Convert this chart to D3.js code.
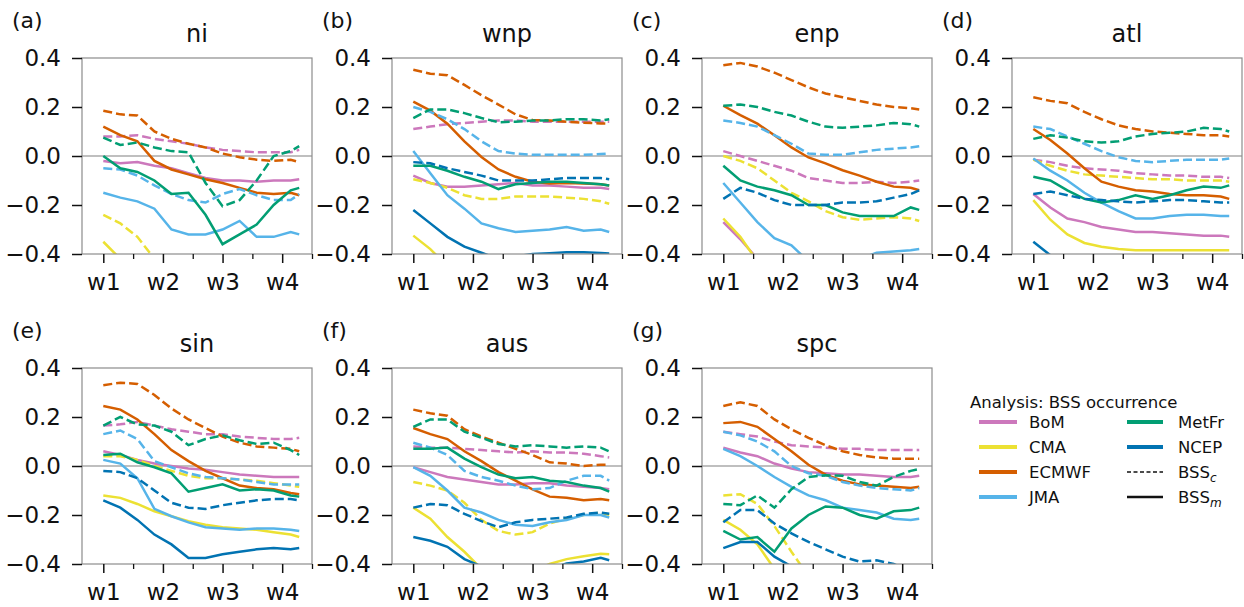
<!DOCTYPE html>
<html>
<head>
<meta charset="utf-8">
<script src="https://cdn.jsdelivr.net/npm/d3@7"></script>
<style>
  html, body { margin: 0; padding: 0; background: #fff; }
  svg { display: block; font-family: "DejaVu Sans", sans-serif; }
</style>
</head>
<body>
<svg id="chart" width="1244" height="607"></svg>
<script>
// ---------------- data ----------------
const days = [7, 9, 11, 13, 15, 17, 19, 21, 23, 25, 27, 29, 30];
const weekTicks = [7, 14, 21, 28];
const weekLabels = ["w1", "w2", "w3", "w4"];
const minorTicks = [10.5, 17.5, 24.5, 31.5];
const yTicks = [-0.4, -0.2, 0, 0.2, 0.4];
const regions = ["ni", "wnp", "enp", "atl", "sin", "aus", "spc"];
const panelLabels = ["(a)", "(b)", "(c)", "(d)", "(e)", "(f)", "(g)"];
const models = ["BoM", "CMA", "ECMWF", "JMA", "MetFr", "NCEP"];
const N = null;

// order of rows: BoM, CMA, ECMWF, JMA, MetFr, NCEP
// *_c = BSS_c (dashed), *_m = BSS_m (solid)
const ni_c = [
  [0.08,0.08,0.085,0.07,0.06,0.05,0.035,0.025,0.02,0.015,0.015,0.015,0.025],
  [-0.24,-0.275,-0.33,-0.42,-0.5,N,N,N,N,N,N,N,N],
  [0.185,0.17,0.165,0.1,0.07,0.05,0.035,0.01,-0.005,-0.015,-0.02,-0.015,-0.025],
  [-0.05,-0.055,-0.08,-0.12,-0.155,-0.18,-0.19,-0.155,-0.135,-0.16,-0.18,-0.18,-0.155],
  [0.075,0.045,0.055,0.035,0.02,0.015,-0.11,-0.205,-0.18,-0.1,0.0,0.02,0.04],
  [N,N,N,N,N,N,N,N,N,N,N,N,N]
];
const ni_m = [
  [-0.02,-0.03,-0.025,-0.04,-0.05,-0.07,-0.09,-0.1,-0.1,-0.105,-0.1,-0.1,-0.095],
  [-0.35,-0.42,-0.5,N,N,N,N,N,N,N,N,N,N],
  [0.12,0.085,0.06,-0.02,-0.055,-0.075,-0.095,-0.11,-0.13,-0.15,-0.155,-0.15,-0.16],
  [-0.15,-0.17,-0.185,-0.215,-0.3,-0.32,-0.32,-0.3,-0.265,-0.33,-0.33,-0.31,-0.32],
  [0.0,-0.05,-0.065,-0.1,-0.155,-0.15,-0.24,-0.36,-0.32,-0.28,-0.2,-0.14,-0.13],
  [N,N,N,N,N,N,N,N,N,N,N,N,N]
];
const wnp_c = [
  [0.11,0.12,0.13,0.135,0.14,0.145,0.145,0.14,0.14,0.14,0.14,0.14,0.14],
  [-0.095,-0.11,-0.13,-0.16,-0.175,-0.175,-0.165,-0.165,-0.165,-0.17,-0.175,-0.185,-0.195],
  [0.352,0.336,0.33,0.29,0.248,0.21,0.17,0.147,0.145,0.14,0.136,0.133,0.133],
  [0.2,0.18,0.15,0.11,0.06,0.02,0.01,0.005,0.005,0.005,0.005,0.008,0.01],
  [0.155,0.19,0.19,0.175,0.155,0.138,0.14,0.145,0.145,0.15,0.15,0.145,0.15],
  [-0.025,-0.03,-0.05,-0.065,-0.08,-0.1,-0.1,-0.1,-0.095,-0.09,-0.09,-0.09,-0.095]
];
const wnp_m = [
  [-0.08,-0.11,-0.125,-0.125,-0.12,-0.115,-0.11,-0.12,-0.12,-0.125,-0.13,-0.13,-0.135],
  [-0.325,-0.38,-0.45,N,N,N,N,N,N,N,N,N,N],
  [0.222,0.185,0.132,0.06,-0.004,-0.055,-0.085,-0.105,-0.112,-0.11,-0.112,-0.115,-0.12],
  [0.02,-0.07,-0.16,-0.215,-0.275,-0.295,-0.31,-0.305,-0.3,-0.29,-0.305,-0.3,-0.31],
  [-0.04,-0.04,-0.06,-0.085,-0.105,-0.135,-0.115,-0.11,-0.105,-0.105,-0.11,-0.115,-0.12],
  [-0.22,-0.275,-0.33,-0.37,-0.395,-0.42,-0.41,-0.4,-0.397,-0.393,-0.393,-0.396,-0.398]
];
const enp_c = [
  [0.02,0.0,-0.02,-0.04,-0.06,-0.09,-0.1,-0.11,-0.11,-0.105,-0.11,-0.105,-0.1],
  [0.0,-0.02,-0.05,-0.1,-0.15,-0.185,-0.225,-0.25,-0.26,-0.255,-0.25,-0.255,-0.265],
  [0.37,0.38,0.365,0.34,0.31,0.28,0.255,0.24,0.225,0.21,0.2,0.195,0.19],
  [0.145,0.135,0.12,0.085,0.05,0.01,0.005,0.005,0.015,0.025,0.03,0.035,0.04],
  [0.205,0.21,0.2,0.18,0.165,0.14,0.12,0.115,0.12,0.125,0.135,0.13,0.12],
  [-0.175,-0.13,-0.15,-0.18,-0.2,-0.2,-0.2,-0.19,-0.19,-0.185,-0.17,-0.155,-0.14]
];
const enp_m = [
  [-0.27,-0.34,-0.42,-0.5,N,N,N,N,N,N,N,N,N],
  [-0.255,-0.33,-0.43,-0.5,N,N,N,N,N,N,N,N,N],
  [0.205,0.167,0.132,0.085,0.035,-0.006,-0.03,-0.058,-0.08,-0.105,-0.125,-0.13,-0.14],
  [-0.11,-0.19,-0.27,-0.335,-0.365,-0.43,-0.46,-0.45,-0.42,-0.395,-0.39,-0.385,-0.38],
  [-0.04,-0.1,-0.125,-0.14,-0.16,-0.2,-0.2,-0.23,-0.245,-0.245,-0.245,-0.21,-0.22],
  [N,N,N,N,N,N,N,N,N,N,N,N,N]
];
const atl_c = [
  [-0.015,-0.025,-0.04,-0.05,-0.055,-0.06,-0.07,-0.075,-0.08,-0.08,-0.085,-0.085,-0.09],
  [-0.015,-0.04,-0.06,-0.075,-0.08,-0.085,-0.09,-0.095,-0.095,-0.1,-0.1,-0.1,-0.105],
  [0.24,0.225,0.215,0.18,0.15,0.125,0.11,0.1,0.095,0.09,0.085,0.085,0.08],
  [0.12,0.11,0.08,0.05,0.02,-0.005,-0.02,-0.025,-0.02,-0.015,-0.015,-0.015,-0.01],
  [0.07,0.085,0.075,0.06,0.055,0.06,0.08,0.09,0.095,0.1,0.115,0.11,0.1],
  [-0.155,-0.145,-0.16,-0.175,-0.18,-0.185,-0.19,-0.185,-0.18,-0.18,-0.185,-0.19,-0.19]
];
const atl_m = [
  [-0.155,-0.21,-0.255,-0.27,-0.29,-0.3,-0.31,-0.31,-0.315,-0.32,-0.325,-0.325,-0.33],
  [-0.18,-0.26,-0.32,-0.355,-0.37,-0.38,-0.385,-0.385,-0.385,-0.385,-0.385,-0.385,-0.385],
  [0.11,0.065,0.01,-0.05,-0.105,-0.125,-0.14,-0.145,-0.155,-0.16,-0.16,-0.165,-0.175],
  [-0.01,-0.06,-0.1,-0.15,-0.19,-0.225,-0.255,-0.255,-0.245,-0.24,-0.24,-0.245,-0.245],
  [-0.085,-0.1,-0.14,-0.175,-0.19,-0.18,-0.16,-0.175,-0.16,-0.14,-0.125,-0.13,-0.12],
  [-0.35,-0.405,-0.45,N,N,N,N,N,N,N,N,N,N]
];
const sin_c = [
  [0.165,0.17,0.18,0.165,0.15,0.14,0.13,0.13,0.12,0.115,0.11,0.11,0.115],
  [0.04,0.04,0.025,0.0,-0.02,-0.04,-0.05,-0.05,-0.055,-0.06,-0.07,-0.08,-0.085],
  [0.33,0.34,0.335,0.29,0.235,0.19,0.155,0.12,0.095,0.08,0.075,0.07,0.06],
  [0.13,0.145,0.11,0.02,-0.005,-0.03,-0.045,-0.05,-0.055,-0.065,-0.075,-0.075,-0.075],
  [0.165,0.2,0.17,0.165,0.14,0.085,0.11,0.125,0.105,0.09,0.095,0.065,0.045],
  [-0.02,-0.025,-0.05,-0.1,-0.15,-0.17,-0.175,-0.16,-0.15,-0.14,-0.135,-0.135,-0.14]
];
const sin_m = [
  [0.06,0.045,0.025,0.01,0.0,-0.01,-0.015,-0.025,-0.035,-0.04,-0.045,-0.045,-0.045],
  [-0.12,-0.13,-0.155,-0.185,-0.205,-0.225,-0.24,-0.25,-0.255,-0.26,-0.27,-0.28,-0.29],
  [0.245,0.23,0.19,0.13,0.065,0.02,-0.02,-0.05,-0.08,-0.09,-0.095,-0.11,-0.115],
  [0.025,0.01,-0.05,-0.175,-0.205,-0.23,-0.25,-0.255,-0.26,-0.255,-0.255,-0.26,-0.265],
  [0.045,0.05,0.015,-0.005,-0.03,-0.105,-0.09,-0.075,-0.1,-0.095,-0.1,-0.12,-0.125],
  [-0.14,-0.17,-0.22,-0.28,-0.32,-0.375,-0.375,-0.36,-0.35,-0.34,-0.335,-0.34,-0.335]
];
const aus_c = [
  [0.08,0.075,0.075,0.07,0.065,0.06,0.055,0.06,0.055,0.055,0.05,0.04,0.035],
  [-0.065,-0.08,-0.1,-0.15,-0.22,-0.265,-0.28,-0.27,-0.235,-0.215,-0.2,-0.19,-0.2],
  [0.23,0.215,0.205,0.15,0.12,0.095,0.07,0.045,0.015,0.01,0.0,0.005,0.005],
  [0.095,0.075,0.045,-0.02,-0.045,-0.06,-0.08,-0.095,-0.09,-0.06,-0.04,-0.04,-0.06],
  [0.16,0.19,0.19,0.14,0.115,0.09,0.08,0.085,0.08,0.075,0.08,0.075,0.06],
  [-0.17,-0.155,-0.16,-0.195,-0.225,-0.25,-0.23,-0.22,-0.215,-0.21,-0.195,-0.19,-0.195]
];
const aus_m = [
  [-0.005,-0.025,-0.045,-0.055,-0.065,-0.075,-0.075,-0.07,-0.07,-0.08,-0.085,-0.09,-0.095],
  [-0.17,-0.215,-0.29,-0.35,-0.42,-0.46,-0.46,-0.43,-0.4,-0.38,-0.368,-0.358,-0.36],
  [0.155,0.13,0.11,0.06,0.02,-0.025,-0.06,-0.095,-0.125,-0.13,-0.14,-0.135,-0.14],
  [-0.005,-0.04,-0.1,-0.17,-0.19,-0.22,-0.24,-0.245,-0.23,-0.22,-0.2,-0.2,-0.21],
  [0.07,0.07,0.075,0.03,-0.005,-0.035,-0.05,-0.045,-0.06,-0.065,-0.08,-0.09,-0.105],
  [-0.29,-0.305,-0.33,-0.38,-0.41,-0.44,-0.45,-0.44,-0.42,-0.398,-0.39,-0.375,-0.385]
];
const spc_c = [
  [0.14,0.13,0.12,0.1,0.085,0.08,0.075,0.07,0.07,0.065,0.065,0.065,0.065],
  [-0.12,-0.115,-0.155,-0.245,-0.35,-0.45,N,N,N,N,N,N,N],
  [0.245,0.26,0.245,0.19,0.15,0.115,0.085,0.06,0.045,0.035,0.03,0.03,0.03],
  [0.14,0.125,0.1,0.06,0.0,-0.03,-0.04,-0.065,-0.08,-0.09,-0.095,-0.1,-0.09],
  [-0.155,-0.16,-0.12,-0.17,-0.095,-0.045,-0.038,-0.04,-0.065,-0.08,-0.045,-0.02,-0.012],
  [-0.23,-0.18,-0.18,-0.235,-0.275,-0.31,-0.34,-0.37,-0.39,-0.385,-0.4,-0.43,-0.45]
];
const spc_m = [
  [0.075,0.055,0.04,0.01,-0.01,-0.025,-0.03,-0.035,-0.035,-0.04,-0.045,-0.045,-0.04],
  [-0.22,-0.26,-0.32,-0.42,-0.5,N,N,N,N,N,N,N,N],
  [0.175,0.18,0.16,0.11,0.06,0.005,-0.035,-0.06,-0.075,-0.08,-0.085,-0.09,-0.085],
  [0.07,0.04,0.0,-0.045,-0.085,-0.12,-0.14,-0.17,-0.18,-0.19,-0.215,-0.22,-0.215],
  [-0.265,-0.3,-0.29,-0.35,-0.255,-0.2,-0.165,-0.17,-0.2,-0.215,-0.185,-0.18,-0.17],
  [-0.335,-0.31,-0.31,-0.37,-0.41,-0.45,N,N,N,N,N,N,N]
];

const dashedSets = [ni_c, wnp_c, enp_c, atl_c, sin_c, aus_c, spc_c];
const solidSets  = [ni_m, wnp_m, enp_m, atl_m, sin_m, aus_m, spc_m];

// ---------------- styles / layout ----------------
const colors = {BoM: "#CC78BC", CMA: "#ECE133", ECMWF: "#D55E00", JMA: "#56B4E9", MetFr: "#029E73", NCEP: "#0173B2"};
const colX = [82, 392, 702, 1012];
const rowY = [58, 368];
const W = 230, H = 196;
const LW = 2.5;
const DASH = "9,4";
const FS_TICK = 23;

const svg = d3.select("#chart");
const x = d3.scaleLinear().domain([4.5, 31.5]).range([0, W]);
const y = d3.scaleLinear().domain([-0.4, 0.4]).range([H, 0]);
const line = d3.line().defined(d => d[1] !== null).x(d => x(d[0])).y(d => y(d[1]));

regions.forEach((reg, i) => {
  const gx = colX[i % 4], gy = rowY[Math.floor(i / 4)];
  const g = svg.append("g").attr("transform", `translate(${gx},${gy})`);
  const clipId = "clip" + i;
  g.append("clipPath").attr("id", clipId).append("rect").attr("width", W).attr("height", H);

  // zero line
  g.append("line").attr("x1", 0).attr("x2", W).attr("y1", y(0)).attr("y2", y(0))
    .attr("stroke", "#808080").attr("stroke-width", 1.1);

  const plot = g.append("g").attr("clip-path", `url(#${clipId})`);
  models.forEach((m, k) => {
    const dc = days.map((d, j) => [d, dashedSets[i][k][j]]);
    const dm = days.map((d, j) => [d, solidSets[i][k][j]]);
    plot.append("path").attr("d", line(dc)).attr("fill", "none")
      .attr("stroke", colors[m]).attr("stroke-width", LW).attr("stroke-dasharray", DASH);
    plot.append("path").attr("d", line(dm)).attr("fill", "none")
      .attr("stroke", colors[m]).attr("stroke-width", LW);
  });

  // frame
  g.append("rect").attr("width", W).attr("height", H).attr("fill", "none")
    .attr("stroke", "#8c8c8c").attr("stroke-width", 1.2);

  // y axis
  const ya = g.append("g").call(d3.axisLeft(y).tickValues(yTicks).tickSize(10).tickPadding(11)
    .tickFormat(d3.format(".1f")));
  ya.select(".domain").remove();
  ya.selectAll("line").attr("stroke", "#111").attr("stroke-width", 1.5);
  ya.selectAll("text").attr("font-size", FS_TICK).attr("fill", "#111").attr("font-family", "DejaVu Sans");

  // x axis
  const xa = g.append("g").attr("transform", `translate(0,${H})`)
    .call(d3.axisBottom(x).tickValues(weekTicks).tickSize(9).tickPadding(11)
      .tickFormat((d, j) => weekLabels[j]));
  xa.select(".domain").remove();
  xa.selectAll("line").attr("stroke", "#111").attr("stroke-width", 1.5);
  xa.selectAll("text").attr("font-size", FS_TICK).attr("fill", "#111").attr("font-family", "DejaVu Sans");
  const xm = g.append("g").attr("transform", `translate(0,${H})`)
    .call(d3.axisBottom(x).tickValues(minorTicks).tickSize(5).tickFormat(""));
  xm.select(".domain").remove();
  xm.selectAll("line").attr("stroke", "#111").attr("stroke-width", 1.3);

  // title and panel label
  g.append("text").attr("x", W / 2).attr("y", -16).attr("text-anchor", "middle")
    .attr("font-size", 24).attr("fill", "#111").text(reg);
  g.append("text").attr("x", -70).attr("y", -30)
    .attr("font-size", 22).attr("fill", "#111").text(panelLabels[i]);
});

// ---------------- legend ----------------
const lg = svg.append("g").attr("transform", "translate(970,0)");
lg.append("text").attr("x", 0).attr("y", 408).attr("font-size", 16.5).attr("fill", "#111")
  .text("Analysis: BSS occurrence");
const rowsY = [422, 447, 472, 497];
const col1 = models.slice(0, 4);
col1.forEach((m, r) => {
  lg.append("line").attr("x1", 9).attr("x2", 47).attr("y1", rowsY[r]).attr("y2", rowsY[r])
    .attr("stroke", colors[m]).attr("stroke-width", 4);
  lg.append("text").attr("x", 59).attr("y", rowsY[r] + 6).attr("font-size", 16.5).attr("fill", "#111").text(m);
});
const col2Items = [
  {label: "MetFr", color: colors.MetFr, w: 4, dash: null},
  {label: "NCEP", color: colors.NCEP, w: 4, dash: null},
  {label: "BSS", sub: "c", color: "#111", w: 1.5, dash: "4,2.5"},
  {label: "BSS", sub: "m", color: "#111", w: 2.5, dash: null}
];
col2Items.forEach((it, r) => {
  const ln = lg.append("line").attr("x1", 157).attr("x2", 193).attr("y1", rowsY[r]).attr("y2", rowsY[r])
    .attr("stroke", it.color).attr("stroke-width", it.w);
  if (it.dash) ln.attr("stroke-dasharray", it.dash);
  const t = lg.append("text").attr("x", 208).attr("y", rowsY[r] + 6).attr("font-size", 16.5).attr("fill", "#111");
  t.append("tspan").text(it.label);
  if (it.sub) t.append("tspan").attr("font-size", 12).attr("font-style", "italic").attr("dy", 4).text(it.sub);
});
</script>
</body>
</html>
